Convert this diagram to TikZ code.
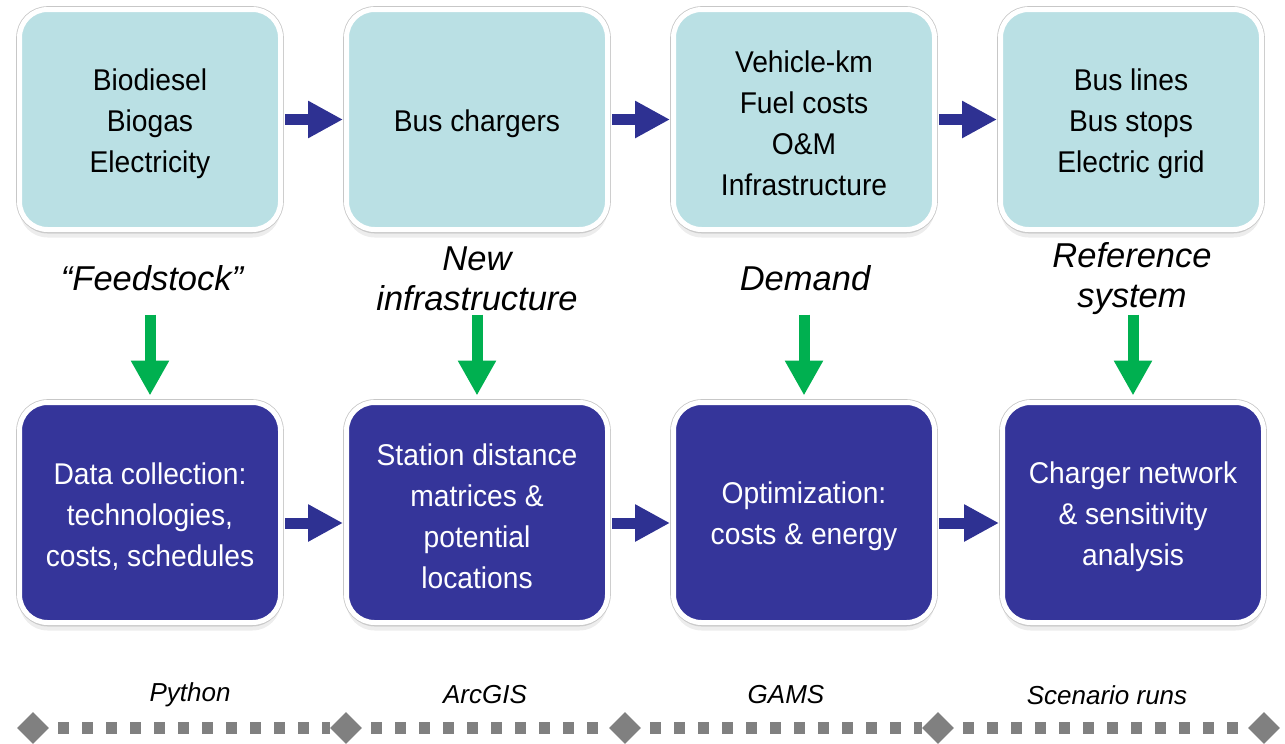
\documentclass[tikz,border=0pt]{standalone}
\usepackage{fontspec}
\setmainfont{Liberation Sans}
\newfontfamily\boxfont[FakeStretch=0.94]{Liberation Sans}
\usetikzlibrary{arrows.meta,shapes.geometric,shadows}
\definecolor{topfill}{HTML}{BAE0E4}
\definecolor{botfill}{HTML}{35359A}
\definecolor{navy}{HTML}{2E3192}
\definecolor{grn}{HTML}{00B050}
\definecolor{tgray}{HTML}{808080}
\newcommand\boxstrut{\rule{0pt}{30pt}}
\begin{document}
\begin{tikzpicture}[x=1pt,y=-1pt,
  boxbase/.style={rectangle, rounded corners=28pt, minimum width=261pt,
    minimum height=220pt, inner sep=0pt, align=center,
    drop shadow={shadow xshift=0pt, shadow yshift=-8pt, opacity=0.07, fill=black},
    drop shadow={shadow xshift=0pt, shadow yshift=-4pt, opacity=0.12, fill=black},
    preaction={draw=black!22, line width=6.6pt},
    draw=white, line width=5pt,
    font=\boxfont\fontsize{30}{41}\selectfont},
  topbox/.style={boxbase, fill=topfill, text=black},
  botbox/.style={boxbase, fill=botfill, text=white},
  labtext/.style={font=\itshape\fontsize{34.5}{40}\selectfont, align=center, inner sep=0pt},
  tooltext/.style={font=\itshape\fontsize{26}{30}\selectfont, inner sep=0pt},
  barrow/.style={draw=navy, line width=11pt, -{Triangle[width=35pt,length=35pt]},
    shorten <=2pt, shorten >=1pt},
  garrow/.style={draw=grn, line width=11pt, -{Triangle[width=36pt,length=35pt]},
    shorten >=4.5pt},
  tdia/.style={diamond, aspect=1, fill=tgray, minimum width=32pt,
    minimum height=32pt, inner sep=0pt},
  tdash/.style={draw=tgray, line width=12pt, dash pattern=on 11pt off 13pt,
    shorten <=9pt}
]
\useasboundingbox (0,0) rectangle (1285,744);

% top row
\node[topbox] (t1) at (150,119.5) {\boxstrut Biodiesel\\Biogas\\Electricity};
\node[topbox] (t2) at (477,119.5) {\boxstrut Bus chargers};
\node[topbox] (t3) at (804,119.5) {\boxstrut Vehicle-km\\Fuel costs\\O\&M\\Infrastructure};
\node[topbox] (t4) at (1131,119.5) {\boxstrut Bus lines\\Bus stops\\Electric grid};

% bottom row
\node[botbox] (b1) at (150,512.5) {\boxstrut Data collection:\\technologies,\\costs, schedules};
\node[botbox] (b2) at (477,512.5) {\boxstrut Station distance\\matrices \&\\potential\\locations};
\node[botbox] (b3) at (804,512.5) {\boxstrut Optimization:\\costs \& energy};
\node[botbox] (b4) at (1133,512.5) {\boxstrut Charger network\\\& sensitivity\\analysis};

% horizontal arrows
\draw[barrow] (t1.east) -- (t2.west);
\draw[barrow] (t2.east) -- (t3.west);
\draw[barrow] (t3.east) -- (t4.west);
\draw[barrow] ([yshift=-10.5pt]b1.east) -- ([yshift=-10.5pt]b2.west);
\draw[barrow] ([yshift=-10.5pt]b2.east) -- ([yshift=-10.5pt]b3.west);
\draw[barrow] ([yshift=-10.5pt]b3.east) -- ([yshift=-10.5pt]b4.west);

% labels
\node[labtext] (l1) at (152,278) {“Feedstock”};
\node[labtext] (l2) at (477,279) {New\\infrastructure};
\node[labtext] (l3) at (805,278) {Demand};
\node[labtext] (l4) at (1132,279) {Reference\\system};

% green arrows
\coordinate (g1) at ([yshift=85.5pt]b1.north);
\coordinate (g2) at ([yshift=85.5pt]b2.north);
\coordinate (g3) at ([yshift=85.5pt]b3.north);
\coordinate (g4) at ([yshift=85.5pt]b4.north);
\draw[garrow] (g1) -- (b1.north);
\draw[garrow] (g2) -- (b2.north);
\draw[garrow] (g3) -- (b3.north);
\draw[garrow] (g4) -- (b4.north);

% tools
\node[tooltext] (p1) at (190,695) {Python};
\node[tooltext] (p2) at (485,695) {ArcGIS};
\node[tooltext] (p3) at (786,695) {GAMS};
\node[tooltext] (p4) at (1107,695) {Scenario runs};

% timeline
\node[tdia] (d1) at (33,728) {};
\node[tdia] (d2) at (346,728) {};
\node[tdia] (d3) at (625,728) {};
\node[tdia] (d4) at (938,728) {};
\node[tdia] (d5) at (1264,728) {};
\draw[tdash] (d1) -- (d2);
\draw[tdash] (d2) -- (d3);
\draw[tdash] (d3) -- (d4);
\draw[tdash] (d4) -- (d5);
\end{tikzpicture}
\end{document}
